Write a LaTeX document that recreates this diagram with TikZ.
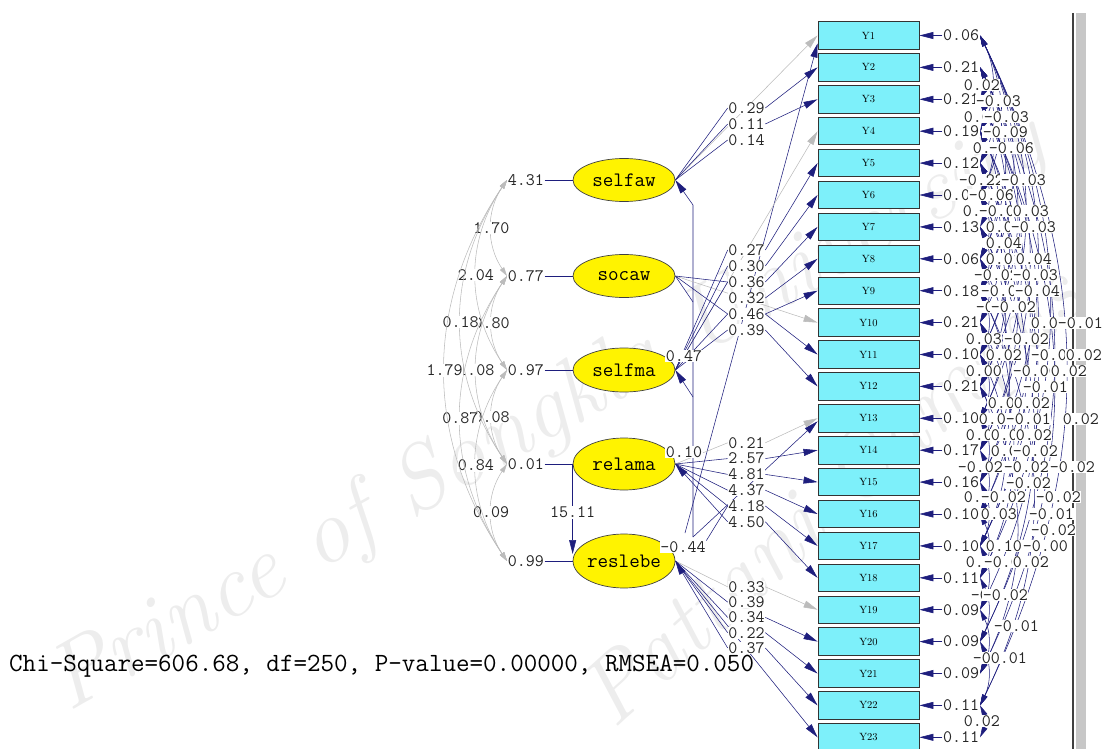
\documentclass[tikz,border=0pt]{standalone}
\usetikzlibrary{arrows.meta,positioning,calc,shapes.geometric}
\pgfdeclarelayer{back}
\pgfsetlayers{back,main}

\definecolor{pathline}{RGB}{30,30,125}
\definecolor{fixline}{RGB}{188,188,188}
\definecolor{boxfill}{RGB}{125,240,250}
\definecolor{latfill}{RGB}{255,243,0}

\begin{document}
\begin{tikzpicture}[x=1pt,y=-1pt,
    font=\fontsize{17.5}{18}\selectfont\ttfamily,
    ybox/.style={draw=black!80,line width=0.9pt,fill=boxfill,minimum width=101pt,minimum height=27.5pt,inner sep=0pt,font=\fontsize{10.5}{11}\selectfont\rmfamily},
    lat/.style={ellipse,draw=black!75,line width=0.7pt,fill=latfill,minimum width=102pt,minimum height=43pt,inner xsep=-2pt,inner ysep=0pt,font=\fontsize{20.5}{21}\selectfont\ttfamily},
    num/.style={fill=white,inner sep=0.6pt,text=black!85},
    ln/.style={draw=pathline,line width=0.55pt},
    fx/.style={draw=fixline,line width=0.55pt},
    tip/.style={-{Triangle[length=14pt,width=7pt]}},
    cov/.style={ln,{Triangle[length=11pt,width=5.5pt]}-{Triangle[length=11pt,width=5.5pt]}},
    lcov/.style={fx,{Triangle[length=9pt,width=5pt]}-{Triangle[length=9pt,width=5pt]}},
    wm/.style={font=\fontsize{92}{92}\selectfont\rmfamily\itshape,text=black!7,inner sep=0pt},
]
\useasboundingbox (0,0) rectangle (1111,749);

% row positions of the indicator boxes
\def\ytop{35.5}
\def\ygap{31.9}

% ================= watermark and window frame =================
\begin{pgfonlayer}{back}
\node[wm,rotate=29.5] (wmA) at (548,415) {Prince of Songkla University};
\node[wm,rotate=42] (wmB) at (835,500) {Pattani Campus};
\end{pgfonlayer}
\fill[black!22] (1076,13) rectangle (1086,749);
\draw[black!75,line width=1.3pt] (1073,13) -- (1073,749);

% ================= indicators Y1..Y23 with error variances =================
\foreach \i in {1,...,23} { \node[ybox] (y\i) at (868.5,{\ytop+(\i-1)*\ygap}) {Y\i}; }
\foreach \v [count=\i] in {0.06,0.21,0.21,0.19,0.12,0.06,0.13,0.06,0.18,0.21,0.10,0.21,0.10,0.17,0.16,0.10,0.10,0.11,0.09,0.09,0.09,0.11,0.11} {
  \node[num,anchor=west] (e\i) at (942.4,{\ytop+(\i-1)*\ygap}) {\v};
  \draw[ln,tip] (e\i.west) -- (y\i.east);
}

% ================= latent variables =================
\node[lat] (selfaw) at (624,180) {selfaw};
\node[lat] (socaw) at (624,276) {socaw};
\node[lat,minimum height=44pt] (selfma) at (624,370) {selfma};
\node[lat,minimum height=52pt] (relama) at (624,464) {relama};
\node[lat,minimum height=54pt] (reslebe) at (624,561) {reslebe};

\foreach \n/\v/\k in {selfaw/4.31/1,socaw/0.77/2,selfma/0.97/3,relama/0.01/4,reslebe/0.99/5} {
  \node[num,left=28pt of \n.west] (v\k) {\v};
  \draw[ln] (v\k.east) -- (\n.west);
}
% covariances among the latents (left arcs)
\foreach \p/\q/\lab in {1/2/1.70,2/3/0.80,3/4/0.08,4/5/0.09,1/3/2.04,2/4/1.08,3/5/0.84,1/4/0.18,2/5/0.87,1/5/1.79} {
  \draw[lcov] (v\p.west) to[bend right=34] node[num] (w\p\q) {\lab} (v\q.west);
}
\draw[ln,tip,shorten >=7pt] (relama.west) -- node[num] (p1511) {15.11} (reslebe.west);

% ================= path labels =================
\foreach \lab [count=\k] in {0.29,0.11,0.14} { \node[num] (a\k) at (746.5,{92+16*\k}) {\lab}; }
\foreach \lab [count=\k] in {0.27,0.30,0.36,0.32,0.46,0.39} { \node[num] (b\k) at (746.5,{234+16*\k}) {\lab}; }
\foreach \lab [count=\k] in {0.21,2.57,4.81,4.37,4.18,4.50} { \node[num] (c\k) at (746.5,{427+15.8*\k}) {\lab}; }
\foreach \lab [count=\k] in {0.33,0.39,0.34,0.22,0.37} { \node[num] (d\k) at (746.5,{571.5+15.3*\k}) {\lab}; }
\node[num] (g1) at (684,356) {0.47};
\node[num] (g2) at (684,452) {0.10};
\node[num] (g3) at (683,547) {-0.44};

\coordinate (kA) at (693,205);
\coordinate (kB) at (693,302);
\coordinate (kC) at (693,397);
\coordinate (kD) at (693,537);
\coordinate (kE) at (685,533);

\begin{pgfonlayer}{back}
% structural paths
\draw[ln,tip] (kD) -- (kA) -- (selfaw.east);
\draw[ln] (socaw.east) -- (kB);
\draw[ln,tip] (kC) -- (selfma.east);
\draw[ln,tip] (kE) -- ($(y1.west)+(0,8)$);
\draw[ln,tip] (kD) -- ($(y13.west)+(0,3)$);
\draw[ln] (g3.north east) -- (c5.west);
% selfaw
\draw[fx,tip] (selfaw.east) -- (y1.west);
\foreach \k in {1,2,3} { \draw[ln] (selfaw.east) -- (a\k.west); }
\draw[ln,tip] (a1.east) -- (y2.west);
\draw[ln,tip] (a2.east) -- (y3.west);
% socaw / selfma
\draw[fx,tip] (selfma.east) -- (y4.west);
\draw[fx,tip] (socaw.east) -- (y10.west);
\foreach \k in {1,2,3,5,6} { \draw[ln] (selfma.east) -- (b\k.west); }
\foreach \k in {3,5} { \draw[ln] (socaw.east) -- (b\k.west); }
\foreach \k/\t in {1/5,2/6,3/7,4/8,5/9,5/11,6/12} { \draw[ln,tip] (b\k.east) -- (y\t.west); }
% relama
\draw[fx] (relama.east) -- (c1.west);
\draw[fx,tip] (c1.east) -- (y13.west);
\foreach \k in {2,...,5} { \draw[ln] (relama.east) -- (c\k.west); }
\draw[ln,tip] (c6.west) -- (relama.east);
\foreach \k/\t in {2/14,3/15,4/16,5/17,6/18} { \draw[ln,tip] (c\k.east) -- (y\t.west); }
% reslebe
\draw[fx] (reslebe.east) -- (d1.west);
\draw[fx,tip] (d1.east) -- (y19.west);
\foreach \k in {2,3,4} { \draw[ln] (reslebe.east) -- (d\k.west); }
\draw[ln,tip] (d5.west) -- (reslebe.east);
\foreach \k/\t in {3/20,4/21,5/22} { \draw[ln,tip] (d\k.east) -- (y\t.west); }
\draw[ln,tip] (reslebe.east) -- (y23.west);
\end{pgfonlayer}

% ================= error covariances (right arcs) =================
\foreach \p/\q in {1/4,1/6,1/9,1/12,1/15,1/18,1/22,2/3,2/5,2/8,2/11,2/14,2/20,3/6,3/9,3/13,3/17,3/21,4/5,4/8,4/11,4/16,5/7,5/10,5/14,5/19,6/8,6/12,6/17,7/9,7/13,7/20,8/10,8/15,9/11,9/16,9/22,10/12,10/18,11/13,11/17,12/14,12/21,13/15,14/16,15/17,16/18,17/19,18/20,19/21,20/22,22/23} {
  \draw[cov] (e\p.east) to[bend left=26] (e\q.east);
}
\foreach \px/\py/\lab [count=\k] in {963/85/0.02,975/101/-0.03,963/117/0.02,983/117/-0.03,982/132/-0.09,972/148/0.02,988/148/-0.06,958/180/-0.22,1000/180/-0.03,968/195/-0.06,962/211/0.02,978/211/-0.04,1012/211/0.03,985/227/0.02,1010/227/-0.03,985/243/0.04,985/259/0.01,1015/259/0.04,973/275/-0.02,1012/275/-0.03,980/291/-0.01,1014/291/-0.04,975/307/-0.01,990/307/-0.02,1030/323/0.00,1057/323/-0.01,965/339/0.03,1003/339/-0.02,985/355/0.02,1030/355/-0.01,1065/355/0.02,965/371/0.00,1012/371/-0.00,1050/371/0.02,1022/387/-0.01,987/403/0.00,1013/403/0.02,978/419/0.00,1005/419/-0.01,1062/419/0.02,965/435/0.05,990/435/0.00,1015/435/0.02,990/451/0.00,1012/451/-0.02,957/467/-0.02,1003/467/-0.02,1049/467/-0.02,1005/483/-0.02,963/497/0.01,980/497/-0.02,1035/497/-0.02,980/514/0.03,1028/514/-0.01,1030/530/-0.02,985/546/0.10,1022/546/-0.00,965/562/0.01,983/562/-0.01,1012/562/0.02,970/595/-0.01,982/595/-0.02,993/626/-0.01,972/658/-0.00,990/658/0.01,963/721/0.02} {
  \node[num,anchor=west] (k\k) at (\px,\py) {\lab};
}

% ================= fit statistics =================
\node[anchor=west,inner sep=0pt,font=\fontsize{26.3}{27}\selectfont\ttfamily] (fit) at (9,666) {Chi-Square=606.68, df=250, P-value=0.00000, RMSEA=0.050};

\end{tikzpicture}
\end{document}
